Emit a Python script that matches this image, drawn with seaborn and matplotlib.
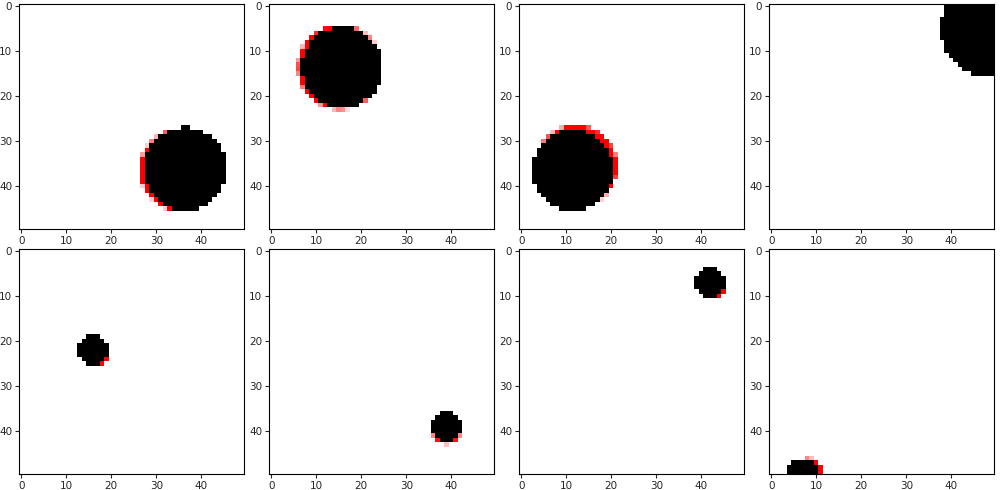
import numpy as np
import matplotlib
matplotlib.use("Agg")
import matplotlib.pyplot as plt
import seaborn as sns

# ============================================================================
# Circle parameters per panel (grid 50 x 50)
# ============================================================================
GRID = 50
target_cx = [36.5, 15.8, 11.5, 48.5, 16.0, 39.0, 42.0, 7.2]
target_cy = [36.2, 13.6, 36.4, 5.0, 22.0, 39.0, 7.0, 49.6]
target_r = [9.3, 9.0, 9.0, 10.9, 3.3, 3.3, 3.3, 3.6]

pred_cx = [35.6, 15.3, 12.2, 48.4, 16.6, 39.0, 42.5, 8.2]
pred_cy = [36.4, 13.6, 35.7, 5.0, 22.5, 39.6, 7.5, 49.5]
pred_r = [9.2, 9.4, 9.2, 10.0, 3.2, 3.3, 3.2, 3.5]

TICKS = [0, 10, 20, 30, 40]

sns.set_style("ticks")
plt.rcParams['font.family'] = ['DejaVu Sans']

yy, xx = np.mgrid[0:GRID, 0:GRID]


def make_image(i):
    """Black hard target disc, red prediction disc, white background."""
    d_t = np.hypot(xx - target_cx[i], yy - target_cy[i])
    d_p = np.hypot(xx - pred_cx[i], yy - pred_cy[i])
    target = (d_t <= target_r[i]).astype(float)
    pred = np.clip((pred_r[i] - d_p) * 2.5 + 0.5, 0, 1)
    img = np.ones((GRID, GRID, 3))
    img[..., 0] = 1 - target
    img[..., 1] = 1 - np.maximum(target, pred)
    img[..., 2] = 1 - np.maximum(target, pred)
    return img


fig, axes = plt.subplots(2, 4, figsize=(10, 4.9), dpi=100)
fig.subplots_adjust(left=0.019, right=0.994, top=0.992, bottom=0.033,
                    wspace=0.111, hspace=0.089)

for i, ax in enumerate(axes.ravel()):
    ax.imshow(make_image(i), interpolation='nearest')
    ax.set_xticks(TICKS)
    ax.set_yticks(TICKS)
    ax.tick_params(labelsize=7.5, length=3, width=0.8, pad=2)
    for sp in ax.spines.values():
        sp.set_linewidth(0.8)
        sp.set_color('black')

plt.savefig('out.png', dpi=100)
